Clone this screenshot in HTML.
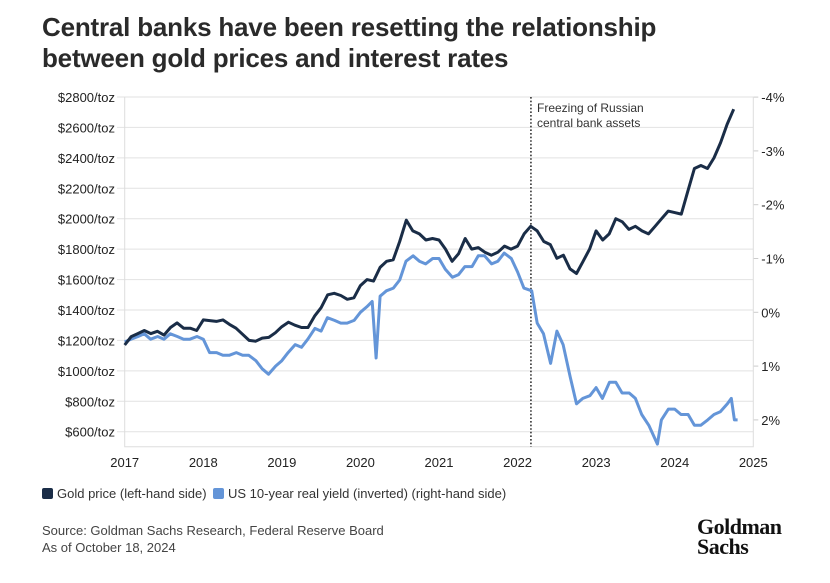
<!DOCTYPE html>
<html><head><meta charset="utf-8"><style>
body{margin:0;background:#fff;font-family:"Liberation Sans",sans-serif;color:#222}
#wrap{position:relative;width:830px;height:583px;overflow:hidden}
.title{position:absolute;left:42px;top:12px;font-size:26px;font-weight:bold;line-height:31px;color:#2a2a2a;letter-spacing:-0.2px}
.leg{position:absolute;top:486px;font-size:13px;color:#333;display:flex;align-items:center}
.sw{width:11px;height:11px;border-radius:2px;margin-right:4px}
.src{position:absolute;left:42px;top:522px;font-size:13px;line-height:17px;color:#444}
.logo{position:absolute;left:697px;top:517px;font-family:"Liberation Serif",serif;font-weight:bold;font-size:22px;line-height:20px;color:#111;letter-spacing:-0.5px}
</style></head><body><div id="wrap">
<div class="title">Central banks have been resetting the relationship<br>between gold prices and interest rates</div>
<svg id="c" width="830" height="583" style="position:absolute;left:0;top:0"></svg>
<div class="leg" style="left:42px"><div class="sw" style="background:#1a2d47"></div>Gold price (left-hand side)</div>
<div class="leg" style="left:213px"><div class="sw" style="background:#6495d8"></div>US 10-year real yield (inverted) (right-hand side)</div>
<div class="src">Source: Goldman Sachs Research, Federal Reserve Board<br>As of October 18, 2024</div>
<div class="logo">Goldman<br>Sachs</div>
</div>
<script>
const leftTicks=[600,800,1000,1200,1400,1600,1800,2000,2200,2400,2600,2800];
const rightTicks=[-4,-3,-2,-1,0,1,2];
const yearTicks=[2017,2018,2019,2020,2021,2022,2023,2024,2025];
const goldMonthly=[1170,1225,1245,1265,1245,1260,1235,1285,1315,1280,1280,1265,
1335,1330,1325,1335,1305,1280,1240,1200,1195,1215,1220,1250,
1290,1320,1300,1285,1285,1360,1415,1500,1510,1495,1470,1480,
1560,1600,1590,1680,1720,1730,1850,1990,1920,1900,1860,1870,
1860,1800,1720,1770,1870,1800,1810,1780,1760,1780,1820,1800,
1820,1900,1950,1920,1850,1830,1740,1760,1670,1640,1720,1800,
1920,1860,1900,2000,1980,1930,1950,1920,1900,1950,2000,2050,
2040,2030,2180,2330,2350,2330,2400,2500,2620,2720];
const yieldDates=[2017.0,2017.08,2017.17,2017.25,2017.33,2017.42,2017.5,2017.58,2017.67,2017.75,2017.83,2017.92,
2018.0,2018.08,2018.17,2018.25,2018.33,2018.42,2018.5,2018.58,2018.67,2018.75,2018.83,2018.92,
2019.0,2019.08,2019.17,2019.25,2019.33,2019.42,2019.5,2019.58,2019.67,2019.75,2019.83,2019.92,
2020.0,2020.08,2020.15,2020.2,2020.25,2020.33,2020.42,2020.5,2020.58,2020.67,2020.75,2020.83,2020.92,
2021.0,2021.08,2021.17,2021.25,2021.33,2021.42,2021.5,2021.58,2021.67,2021.75,2021.83,2021.92,
2022.0,2022.08,2022.18,2022.25,2022.33,2022.42,2022.5,2022.58,2022.67,2022.75,2022.83,2022.92,
2023.0,2023.08,2023.17,2023.25,2023.33,2023.42,2023.5,2023.58,2023.67,2023.78,2023.83,2023.92,
2024.0,2024.08,2024.17,2024.25,2024.33,2024.42,2024.5,2024.58,2024.67,2024.72,2024.76,2024.8];
const yieldValues=[0.55,0.5,0.45,0.4,0.5,0.45,0.5,0.4,0.45,0.5,0.5,0.45,
0.5,0.75,0.75,0.8,0.8,0.75,0.8,0.8,0.9,1.05,1.15,1.0,
0.9,0.75,0.6,0.65,0.5,0.3,0.35,0.1,0.15,0.2,0.2,0.15,
0.0,-0.1,-0.2,0.85,-0.3,-0.4,-0.45,-0.6,-0.95,-1.05,-0.95,-0.9,-1.0,
-1.0,-0.8,-0.65,-0.7,-0.85,-0.85,-1.05,-1.05,-0.9,-0.95,-1.1,-1.0,
-0.75,-0.45,-0.4,0.2,0.4,0.95,0.35,0.6,1.2,1.7,1.6,1.55,
1.4,1.6,1.3,1.3,1.5,1.5,1.6,1.9,2.1,2.45,2.0,1.8,
1.8,1.9,1.9,2.1,2.1,2.0,1.9,1.85,1.7,1.6,2.0,2.0];
const X0=124.7,X1=753.3,Y0=97,Y1=446.7;
const xs=t=>X0+(t-2017)/8*(X1-X0);
const yL=v=>97+(2800-v)/2200*334.7;
const yR=v=>312.3+v*53.8;
const svg=document.getElementById('c');
const NS='http://www.w3.org/2000/svg';
function mk(tag,attrs){const e=document.createElementNS(NS,tag);for(const k in attrs)e.setAttribute(k,attrs[k]);svg.appendChild(e);return e;}
leftTicks.forEach(v=>{
 const g=mk('line',{x1:117,x2:X1,y1:yL(v),y2:yL(v),stroke:'#e2e2e2','stroke-width':1});
 
 
 const t=mk('text',{x:115,y:yL(v)+5,'text-anchor':'end','font-size':13,fill:'#222'});
 t.textContent='$'+v+'/toz';
 
 
});
rightTicks.forEach(v=>{
 const l=mk('line',{x1:X1,x2:X1+5,y1:yR(v),y2:yR(v),stroke:'#ccc'});
 
 
 const t=mk('text',{x:X1+8,y:yR(v)+5,'font-size':13,fill:'#222'});
 t.textContent=(v<0?'-':'')+Math.abs(v)+'%';
 
 
});
const ax=mk('path',{d:`M${X0},${Y0}V${Y1}H${X1}V${Y0}`,fill:'none',stroke:'#ddd'});


yearTicks.forEach(v=>{
 const t=mk('text',{x:xs(v),y:467,'text-anchor':'middle','font-size':13,fill:'#222'});
 t.textContent=v;
 
 
});
const vl=mk('line',{x1:xs(2022.17),x2:xs(2022.17),y1:Y0,y2:Y1,stroke:'#333','stroke-width':1.6,'stroke-dasharray':'1.6,2'});


['Freezing of Russian','central bank assets'].forEach((s,i)=>{
 const t=mk('text',{x:537,y:112+i*15,'font-size':12,fill:'#333'});
 t.textContent=s;
 
 
});
const yp=yieldDates.map((d,i)=>xs(d).toFixed(1)+','+yR(yieldValues[i]).toFixed(1)).join(' ');
const yl=mk('polyline',{points:yp,fill:'none',stroke:'#6495d8','stroke-width':3,'stroke-linejoin':'round'});


const gp=goldMonthly.map((v,i)=>xs(2017+i/12).toFixed(1)+','+yL(v).toFixed(1)).join(' ');
const gl=mk('polyline',{points:gp,fill:'none',stroke:'#1a2d47','stroke-width':3,'stroke-linejoin':'round'});


</script></body></html>
